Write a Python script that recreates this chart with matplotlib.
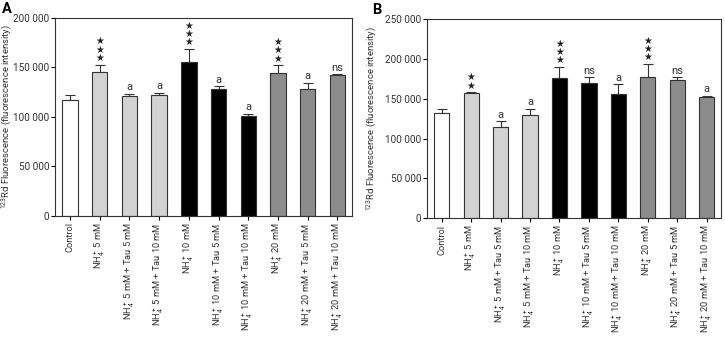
import matplotlib

matplotlib.use("Agg")
import matplotlib.pyplot as plt
import numpy as np
from matplotlib.ticker import FuncFormatter

plt.rcParams["font.family"] = ["Roboto", "DejaVu Sans"]
plt.rcParams["mathtext.fontset"] = "custom"
plt.rcParams["mathtext.rm"] = "Roboto"
plt.rcParams["mathtext.it"] = "Roboto:italic"
plt.rcParams["mathtext.bf"] = "Roboto:bold"

# Category labels (shared by both panels)
labels = [
    "Control",
    r"NH$_4^+$ 5 mM",
    r"NH$_4^+$ 5 mM + Tau 5 mM",
    r"NH$_4^+$ 5 mM + Tau 10 mM",
    r"NH$_4^+$ 10 mM",
    r"NH$_4^+$ 10 mM + Tau 5 mM",
    r"NH$_4^+$ 10 mM + Tau 10 mM",
    r"NH$_4^+$ 20 mM",
    r"NH$_4^+$ 20 mM + Tau 5 mM",
    r"NH$_4^+$ 20 mM + Tau 10 mM",
]
bar_colors = ["white", "#d2d2d2", "#d2d2d2", "#d2d2d2",
              "black", "black", "black",
              "#8c8c8c", "#8c8c8c", "#8c8c8c"]

# Panel A
a_means = [117000, 145400, 120700, 121800, 155800, 128200, 100500, 144300, 128200, 142000]
a_errs = [5000, 7400, 2400, 2700, 12800, 2700, 2400, 7800, 6000, 1000]
a_marks = ["", "***", "a", "a", "***", "a", "a", "***", "a", "ns"]

# Panel B
b_means = [131900, 156800, 114800, 129800, 176400, 170100, 155600, 177600, 173500, 152700]
b_errs = [5000, 1300, 7100, 7500, 13300, 6700, 12500, 15800, 3300, 1200]
b_marks = ["", "**", "a", "a", "***", "ns", "a", "***", "ns", "a"]

YLABEL = r"$^{123}$Rd Fluorescence (fluorescence intensity)"
INK = "#333333"


def thousands(v, _):
    return "0" if v == 0 else f"{int(v):,}".replace(",", " ")


def draw_panel(ax, means, errs, marks, ymax, step, ylabel_x):
    x = np.arange(len(means))
    ax.bar(x, means, width=0.52, color=bar_colors, edgecolor=INK, linewidth=0.8, zorder=2)
    ax.errorbar(x, means, yerr=[np.zeros(len(errs)), errs], fmt="none",
                ecolor=INK, elinewidth=0.8, capsize=3.5, capthick=0.8, zorder=1)
    for xi, m, e, mk in zip(x, means, errs, marks):
        if not mk:
            continue
        top = m + e + ymax * 0.008
        if "*" in mk:
            ax.text(xi, top, "\n".join("★" * len(mk)), ha="center", va="bottom",
                    fontsize=7, linespacing=0.8, family="DejaVu Sans", color="#222222")
        else:
            ax.text(xi, top, mk, ha="center", va="bottom", fontsize=8, color=INK)
    ax.set_xlim(-0.5, len(means) - 0.5)
    ax.set_ylim(0, ymax)
    ax.set_yticks(np.arange(0, ymax + 1, step))
    ax.yaxis.set_major_formatter(FuncFormatter(thousands))
    ax.set_xticks(x)
    ax.set_xticklabels(labels, rotation=90, fontsize=6.7, color=INK)
    ax.tick_params(axis="y", labelsize=7.2, length=3, width=0.8, pad=1, labelcolor=INK)
    ax.tick_params(axis="x", length=3, width=0.8, pad=1.5)
    for sp in ax.spines.values():
        sp.set_linewidth(0.8)
        sp.set_color(INK)
    ax.set_ylabel(YLABEL, fontsize=6.8, color=INK)
    ax.yaxis.set_label_coords(ylabel_x, 0.5)


fig = plt.figure(figsize=(7.25, 3.37), dpi=100)
ax_a = fig.add_axes([0.076, 0.359, 0.410, 0.588])
ax_b = fig.add_axes([0.589, 0.352, 0.406, 0.592])

draw_panel(ax_a, a_means, a_errs, a_marks, 200000, 50000, -0.142)
draw_panel(ax_b, b_means, b_errs, b_marks, 250000, 50000, -0.165)

fig.text(0.003, 0.995, "A", fontsize=10.5, fontweight="bold", ha="left", va="top")
fig.text(0.513, 0.99, "B", fontsize=10.5, fontweight="bold", ha="left", va="top")

fig.savefig("out.png", dpi=100)
